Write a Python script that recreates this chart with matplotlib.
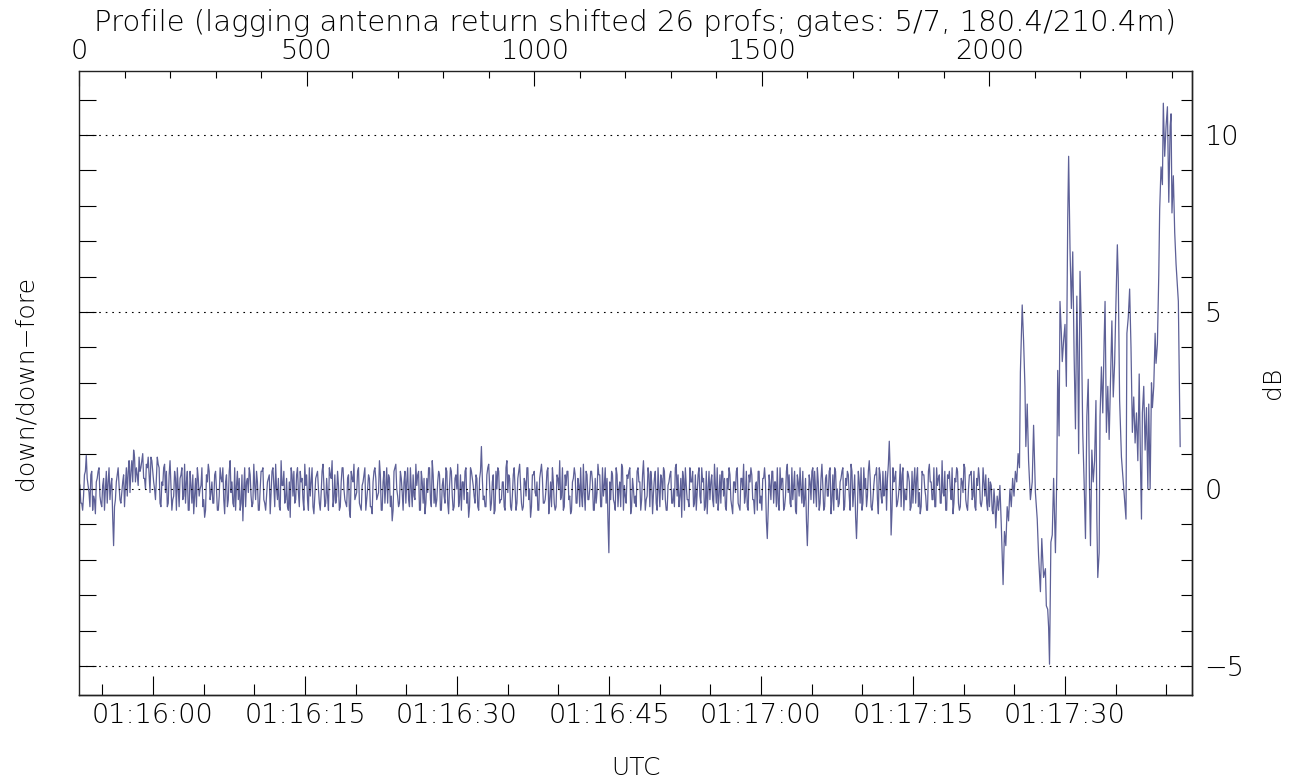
import numpy as np
import matplotlib
matplotlib.use('Agg')
import matplotlib.pyplot as plt
from matplotlib.ticker import MultipleLocator, FuncFormatter, NullFormatter

# ---------------- data ----------------
noise_step = 4  # profiles between samples of each quiet-part list
# samples at profiles 0, 4, 8, ...
noise_values_a = [
    0.2, -0.4, -0.6, 0.4, 0.95, 0.1, -0.5, 0.5, -0.2, -0.7, 0.3, 0.6, -0.4, 0.1, -0.6, 0.5, 0.2, -0.3, 0.3, -1.6,
    -0.3, 0.4, 0.1, -0.4, 0.2, -0.5, 0.6, 0.5, -0.1, 0.8, 1.1, 0.2, 0.4, 0.9, 0.6, 1.0, 0.3, 0.7, 0.9, -0.1,
    0.8, 0.2, -0.3, 0.9, 0.6, -0.5, 0.1, 0.7, 0.5, -0.4, 0.8, -0.6, -0.2, 0.3, 0.6, -0.5, 0.4, -0.3, 0.7, 0.2,
    -0.6, 0.5, -0.4, -0.7, 0.3, 0.6, -0.2, 0.1, -0.5, -0.8, 0.4, 0.7, -0.3, 0.2, -0.4, 0.5, -0.6, -0.2, 0.3, 0.6,
    -0.7, 0.4, -0.3, 0.8, 0.2, -0.5, -0.6, 0.5, 0.3, -0.4, -0.9, 0.6, 0.2, -0.1, 0.4, -0.5, 0.7, -0.3, 0.2, -0.6,
    0.5, 0.6, -0.4, -0.2, 0.3, -0.7, 0.5, 0.1, 0.7, -0.3, -0.5, 0.8, 0.1, -0.4, 0.3, -0.6, -0.8, 0.4, 0.5, -0.3,
    0.6, -0.5, 0.2, -0.3, 0.7, 0.4, -0.6, -0.2, 0.6, -0.7, 0.3, 0.5, -0.4, -0.1, 0.7, -0.5, 0.3, -0.6, 0.4, 0.8,
    -0.3, -0.4, 0.5, -0.6, 0.2, 0.6, -0.3, -0.5, 0.4, -0.8, 0.3, 0.7, -0.2, 0.5, -0.4, -0.6, 0.2, 0.6, -0.3, 0.4,
    -0.5, -0.7, 0.5, 0.3, -0.2, 0.8, -0.6, 0.2, -0.4, 0.6, 0.4, -0.5, -0.9, 0.5, 0.7, -0.2, -0.4, 0.3, -0.6, 0.5,
    0.2, -0.3, 0.6, -0.5, -0.2, 0.7, 0.4, -0.6, 0.5, -0.4, -0.7, 0.3, 0.6, -0.3, 0.8, -0.4, -0.5, 0.2, 0.4, -0.6,
    0.3, -0.4, 0.5, -0.7, 0.6, -0.2, -0.5, 0.4, 0.7, -0.3, -0.6, 0.2, 0.5, -0.4, -0.8, 0.6, 0.3, -0.2, 0.4, -0.5,
    0.3, 1.2, -0.3, -0.5, 0.4, 0.7, -0.6, 0.2, -0.7, 0.5, 0.6, -0.4, -0.3, 0.2, -0.6, 0.8, 0.4, -0.5, -0.2, 0.6,
    -0.6, 0.3, 0.7, -0.4, -0.5, 0.2, 0.6, -0.3, -0.8, 0.4, 0.5, -0.2, -0.6, 0.3, 0.7, -0.4, -0.3, 0.5, -0.7, 0.2,
    0.6, -0.4, -0.5, 0.3, 0.8, -0.2, -0.6, 0.4, 0.5, -0.3, -0.7, 0.2, 0.6, -0.4, 0.3, -0.5, -0.2, 0.7, -0.6, 0.4,
    -0.3, 0.5, 0.2, -0.6, -0.4, 0.7, 0.4, -0.5, -0.2, 0.6, 0.3, -1.8, -0.3, 0.4, -0.4, 0.6, -0.5, 0.2, 0.7, -0.6,
    -0.2, 0.4, 0.5, -0.7, 0.3, -0.4, -0.5, 0.6, 0.2, -0.3, 0.8, -0.6, -0.2, 0.4, 0.5, -0.7, 0.3, -0.4, 0.6, -0.5,
    0.3, 0.6, -0.3, -0.6, 0.2, 0.5, -0.4, -0.5, 0.7, 0.4, -0.2, -0.8, 0.3, 0.6, -0.3, -0.5, 0.2, 0.5, -0.4, -0.6,
    0.4, -0.2, 0.6, 0.3, -0.5, -0.7, 0.5, 0.2, -0.3, 0.7, -0.4, -0.6, 0.4, 0.5, -0.2, -0.5, 0.3, 0.6, -0.3, -0.7,
    0.2, 0.5, -0.4, -0.6, 0.3, 0.7, -0.2, -0.5, 0.4, 0.6, -0.3, -0.7, 0.2, 0.5, -0.4, -0.6, 0.3, 0.2, -1.4, 0.4,
    -0.3, 0.5, 0.2, -0.5, -0.4, 0.6, 0.3, -0.6, -0.2, 0.7, 0.4, -0.5, -0.3, 0.5, -0.7, 0.2, 0.6, -0.4, -0.5, 0.3,
    -1.6, 0.4, -0.3, 0.6, 0.5, -0.5, 0.2, -0.4, 0.7, -0.6, 0.3, -0.2, 0.5, -0.7, 0.4, 0.6, -0.3, -0.5, 0.2, 0.5,
    -0.6, 0.3, 0.5, -0.2, 0.7, -0.5, 0.4, -1.4, 0.5, -0.4, -0.6, 0.6, 0.3, -0.2, 0.8, -0.5, -0.3, 0.4, 0.6, -0.7,
    0.4, -0.4, -0.2, 0.5, 0.3, 1.35, -1.3, 0.6, 0.3, -0.5, -0.2, 0.7, 0.4, -0.6, -0.3, 0.5, 0.2, -0.5, -0.4, 0.6,
    0.3, -0.5, -0.7, 0.5, 0.4, -0.2, -0.6, 0.7, 0.2, -0.3, -0.5, 0.6, 0.3, -0.4, 0.8, -0.2, -0.6, 0.4, 0.5, -0.3,
    -0.7, 0.3, 0.6, -0.4, -0.5, 0.2, 0.7, -0.3, -0.6, 0.4, 0.5, -0.2, -0.5, 0.3, 0.6, -0.4, -0.3, 0.2, 0.4, -0.6,
    -0.5, 0.1, -0.7,
]
# samples at profiles 2, 6, 10, ...
noise_values_b = [
    0.1, -0.4, -0.2, 0.5, 0.3, -0.1, 0.4, -0.6, -0.3, 0.2, 0.5, -0.2, -0.5, 0.3, 0.0, -0.4, 0.6, 0.1, -0.8, -0.5,
    0.2, 0.6, -0.3, -0.1, 0.4, 0.1, -0.2, 0.8, 0.5, 0.2, 0.9, 0.6, 0.1, 0.5, 0.8, 0.3, 0.0, 0.6, 0.4, 0.9,
    0.5, 0.0, 0.3, 0.7, -0.4, 0.2, 0.6, -0.1, -0.5, 0.4, 0.1, -0.3, 0.5, -0.6, 0.0, 0.3, 0.6, -0.2, -0.4, 0.5,
    -0.6, 0.1, 0.4, -0.2, -0.5, 0.3, 0.0, 0.6, -0.3, -0.6, 0.2, 0.5, -0.1, -0.4, 0.4, 0.0, -0.6, 0.6, 0.2, -0.3,
    0.2, -0.5, 0.5, -0.1, -0.4, 0.6, 0.1, -0.3, -0.6, 0.4, 0.0, -0.5, 0.3, 0.6, -0.2, -0.4, 0.1, 0.5, -0.6, 0.0,
    0.5, -0.3, -0.6, 0.2, 0.4, -0.1, 0.6, -0.5, 0.0, 0.3, -0.6, 0.1, 0.5, -0.3, -0.5, 0.2, 0.6, -0.2, -0.4, 0.4,
    -0.1, 0.5, 0.3, -0.6, 0.1, -0.3, 0.6, 0.2, -0.5, -0.2, 0.4, 0.0, -0.6, 0.5, 0.1, -0.4, -0.2, 0.6, 0.3, -0.5,
    0.4, -0.2, 0.1, -0.5, 0.6, 0.0, -0.4, 0.3, -0.6, 0.5, 0.2, -0.3, -0.1, 0.6, -0.5, 0.1, 0.4, -0.6, 0.0, 0.3,
    -0.5, 0.2, 0.6, -0.3, -0.1, 0.4, -0.6, 0.5, 0.1, -0.4, 0.3, -0.2, -0.6, 0.6, 0.0, -0.5, 0.5, -0.1, 0.2, -0.4,
    0.6, -0.5, 0.0, 0.4, -0.3, 0.1, 0.5, -0.6, 0.2, 0.3, -0.4, -0.1, 0.6, -0.5, 0.4, 0.0, -0.3, 0.5, -0.6, 0.1,
    -0.2, 0.6, -0.4, 0.1, 0.5, -0.6, 0.3, 0.0, -0.5, 0.4, 0.2, -0.3, 0.6, -0.1, -0.5, 0.5, 0.1, -0.4, 0.3, -0.6,
    0.5, 0.3, -0.2, -0.5, 0.6, 0.1, -0.4, 0.4, -0.6, 0.0, 0.5, -0.3, 0.2, -0.5, 0.6, -0.1, 0.3, -0.6, 0.4, 0.0,
    -0.4, 0.5, 0.1, -0.6, 0.3, -0.2, 0.6, 0.0, -0.5, 0.4, -0.1, 0.2, -0.6, 0.5, 0.3, -0.4, 0.0, 0.6, -0.3, -0.5,
    0.2, -0.6, 0.4, 0.0, -0.3, 0.6, -0.5, 0.1, 0.5, -0.2, -0.6, 0.3, 0.4, -0.4, 0.1, 0.6, -0.5, -0.1, 0.5, -0.3,
    0.0, 0.5, -0.6, 0.3, -0.1, 0.4, -0.5, 0.6, 0.1, -0.4, -0.9, 0.2, 0.5, -0.3, -0.6, 0.4, 0.0, -0.5, 0.6, 0.1,
    -0.4, 0.3, 0.6, -0.5, 0.0, -0.2, 0.5, 0.2, -0.6, 0.4, 0.1, -0.3, 0.6, -0.5, 0.2, -0.1, 0.5, -0.6, 0.0, 0.4,
    -0.3, 0.5, -0.6, 0.1, 0.4, -0.4, 0.0, 0.6, -0.2, -0.5, 0.3, 0.5, -0.6, 0.1, -0.3, 0.6, 0.2, -0.5, 0.4, -0.1,
    0.6, -0.4, 0.2, -0.6, 0.5, 0.0, -0.3, 0.4, -0.5, 0.1, 0.6, -0.2, -0.4, 0.5, 0.3, -0.6, 0.0, 0.4, -0.5, 0.2,
    -0.1, 0.6, -0.5, 0.3, 0.0, -0.4, 0.5, -0.6, 0.2, 0.4, -0.3, 0.1, -0.6, 0.5, -0.2, 0.3, 0.6, -0.9, -0.6, 0.1,
    0.5, -0.4, 0.2, 0.6, -0.6, 0.0, 0.3, -0.5, 0.5, -0.1, -0.4, 0.6, 0.1, -0.6, 0.4, -0.2, 0.0, 0.5, -0.3, -0.9,
    -0.7, 0.2, 0.5, -0.4, 0.0, 0.6, -0.6, 0.3, 0.1, -0.5, 0.4, -0.2, 0.6, -0.3, -0.6, 0.5, 0.0, -0.4, 0.3, 0.6,
    -0.5, 0.1, 0.4, -0.6, 0.5, -0.1, -0.8, -0.6, 0.2, 0.6, -0.4, 0.0, -0.5, 0.5, 0.3, -0.6, 0.1, 0.4, -0.3, 0.6,
    -0.2, 0.5, 0.0, -0.6, 0.7, 0.5, -0.6, 0.2, 0.5, -0.4, 0.1, -0.5, 0.6, 0.0, -0.3, 0.4, -0.6, 0.5, 0.2, -0.4,
    0.6, -0.1, -0.5, 0.4, 0.0, -0.6, 0.5, 0.2, -0.3, 0.6, -0.5, 0.1, 0.4, -0.4, -0.1, 0.5, -0.6, 0.3, 0.0, 0.6,
    -0.4, 0.2, 0.5, -0.6, 0.3, -0.1, 0.6, -0.5, 0.0, 0.4, -0.3, 0.5, -0.6, 0.1, 0.3, -0.5, 0.6, -0.2, -0.4, 0.3,
    0.2, -0.6, 0.0,
]

tail_profiles = [
    2012, 2014, 2017, 2020, 2023, 2026, 2030, 2033, 2036, 2039, 2042, 2045, 2048, 2051, 2054, 2057, 2060, 2063, 2066, 2068,
    2072, 2075, 2078, 2080, 2083, 2086, 2090, 2094, 2097, 2101, 2105, 2108, 2112, 2115, 2119, 2123, 2125, 2128, 2130, 2132,
    2135, 2138, 2141, 2145, 2148, 2150, 2153, 2155, 2158, 2160, 2163, 2166, 2169, 2172, 2174, 2177, 2180, 2183, 2186, 2189,
    2192, 2194, 2196, 2199, 2202, 2205, 2208, 2211, 2214, 2217, 2220, 2222, 2225, 2228, 2231, 2234, 2236, 2238, 2241, 2243,
    2246, 2249, 2252, 2254, 2257, 2260, 2263, 2266, 2269, 2272, 2275, 2278, 2281, 2283, 2286, 2290, 2294, 2297, 2300, 2302,
    2305, 2308, 2311, 2314, 2317, 2320, 2323, 2326, 2329, 2332, 2334, 2336, 2339, 2342, 2345, 2348, 2350, 2353, 2356, 2358,
    2361, 2364, 2366, 2369, 2372, 2374, 2377, 2380, 2382, 2385, 2388, 2391, 2394, 2397, 2399, 2401, 2404, 2407, 2410, 2413,
    2415, 2419,
]
tail_values = [
    -0.4, -1.1, -0.2, -0.6, 0.1, -1.0, -2.7, -1.2, -1.6, -0.5, -0.9, 0.0, -0.5, 0.3, -0.2, 0.5, 0.2, 1.0, 0.6, 3.3,
    5.2, 4.2, 2.9, 1.2, 2.4, 0.8, -0.3, 0.2, 1.8, -0.1, -0.85, -1.9, -2.9, -1.4, -2.5, -2.25, -3.3, -3.4, -3.9, -4.95,
    -1.5, -1.3, 0.3, -1.8, 0.45, 3.35, 1.5, 5.3, 4.4, 3.6, 4.2, 4.65, 2.9, 7.65, 9.4, 6.8, 5.1, 6.7, 3.8, 1.7,
    5.45, 3.8, 1.0, 6.15, 4.5, 1.6, 0.2, -1.4, 2.05, 3.1, -0.1, -1.6, 1.1, 0.2, 0.8, 2.5, -0.85, -2.5, -1.8, 2.05,
    3.45, 2.15, 4.2, 5.3, 1.6, 2.9, 1.4, 3.1, 4.75, 2.6, 3.55, 5.3, 6.9, 5.95, 2.5, 0.9, 0.2, -0.3, -0.85, 4.4,
    4.85, 5.65, 4.0, 1.6, 2.6, 1.3, 2.15, 0.8, 3.25, 0.55, -0.85, 2.15, 2.9, 1.1, 2.3, 0.0, 2.4, 0.0, 3.0, 2.3,
    2.9, 4.4, 3.55, 4.1, 6.05, 7.9, 9.1, 8.6, 10.9, 9.4, 10.25, 10.8, 8.1, 10.25, 10.6, 7.8, 8.85, 7.25, 6.35, 5.7,
    5.3, 1.2,
]

ref_levels = [-5, 0, 5, 10]
profile_range = (0, 2445)
db_range = (-5.82, 11.81)
start_seconds = 1 * 3600 + 15 * 60 + 52.70   # UTC of profile 0
profiles_per_second = 22.26

title_text = 'Profile (lagging antenna return shifted 26 profs; gates: 5/7, 180.4/210.4m)'
left_label = 'down/down\u2212fore'
right_label = 'dB'
bottom_label = 'UTC'

# ---------------- plot ----------------
plt.rcParams['font.family'] = ['DejaVu Sans']
plt.rcParams['font.weight'] = 'light'
plt.rcParams['axes.labelweight'] = 'light'
FS_TICK = 19.5
FS_TITLE = 21
FS_LABEL = 18
line_color = '#5d6097'

prof_a = np.arange(len(noise_values_a)) * noise_step
prof_b = np.arange(len(noise_values_b)) * noise_step + noise_step // 2
profiles = np.concatenate([prof_a, prof_b, np.array(tail_profiles)])
values = np.concatenate([np.array(noise_values_a), np.array(noise_values_b), np.array(tail_values)])
order = np.argsort(profiles, kind='stable')
profiles, values = profiles[order], values[order]

fig = plt.figure(figsize=(12.89, 7.80), dpi=100)
ax = fig.add_axes([79 / 1289, 1 - 695 / 780, (1192 - 79) / 1289, (695 - 71) / 780])

ax.plot(profiles, values, color=line_color, lw=0.9, zorder=2)
for lev in ref_levels:
    ax.axhline(lev, color='black', lw=0.8, linestyle=(0, (1.5, 4.4)), zorder=3)

ax.set_xlim(*profile_range)
ax.set_ylim(*db_range)

for s in ax.spines.values():
    s.set_linewidth(1.0)
    s.set_color('#222222')

# top axis: profiles
def prof_fmt(v, pos=None):
    if v < profile_range[0] - 1e-6 or v > profile_range[1] + 1e-6:
        return ''
    return f'{v:.0f}'

ax.xaxis.tick_top()
ax.xaxis.set_label_position('top')
ax.xaxis.set_major_locator(MultipleLocator(500))
ax.xaxis.set_minor_locator(MultipleLocator(100))
ax.xaxis.set_major_formatter(FuncFormatter(prof_fmt))
ax.tick_params(axis='x', which='major', direction='in', length=11, width=0.8, labelsize=FS_TICK, pad=5)
ax.tick_params(axis='x', which='minor', direction='in', length=5, width=0.8)
ax.set_xlabel(title_text, fontsize=FS_TITLE, labelpad=6)

# left axis: ticks only
ax.yaxis.set_major_locator(MultipleLocator(1))
ax.tick_params(axis='y', which='major', direction='in', length=12, width=0.8,
               left=True, right=False, labelleft=False)
ax.set_ylabel(left_label, fontsize=FS_LABEL, labelpad=30)

# bottom axis: UTC
def p2t(p):
    return start_seconds + np.asarray(p, dtype=float) / profiles_per_second

def t2p(t):
    return (np.asarray(t, dtype=float) - start_seconds) * profiles_per_second

t_lo, t_hi = p2t(profile_range[0]), p2t(profile_range[1])

def hms(t, pos=None):
    if t < t_lo - 1e-6 or t > t_hi + 1e-6:
        return ''
    t = int(round(t))
    return f'{t // 3600:02d}:{(t % 3600) // 60:02d}:{t % 60:02d}'

sec = ax.secondary_xaxis('bottom', functions=(p2t, t2p))
sec.xaxis.set_major_locator(MultipleLocator(15))
sec.xaxis.set_minor_locator(MultipleLocator(5))
sec.xaxis.set_major_formatter(FuncFormatter(hms))
sec.tick_params(axis='x', which='major', direction='in', length=14, width=0.8, labelsize=FS_TICK, pad=6)
sec.tick_params(axis='x', which='minor', direction='in', length=8, width=0.8)
sec.set_xlabel(bottom_label, fontsize=FS_LABEL, labelpad=20)
sec.spines['bottom'].set_linewidth(1.0)
sec.spines['bottom'].set_color('#222222')

# right axis: dB
def db_fmt(v, pos=None):
    if v < db_range[0] - 1e-6 or v > db_range[1] + 1e-6:
        return ''
    return f'{v:.0f}'.replace('-', '\u2212')

secy = ax.secondary_yaxis('right', functions=(lambda v: v, lambda v: v))
secy.yaxis.set_major_locator(MultipleLocator(5))
secy.yaxis.set_minor_locator(MultipleLocator(1))
secy.yaxis.set_major_formatter(FuncFormatter(db_fmt))
secy.tick_params(axis='y', which='major', direction='in', length=8, width=0.8, labelsize=FS_TICK, pad=9)
secy.tick_params(axis='y', which='minor', direction='in', length=8, width=0.8)
secy.set_ylabel(right_label, fontsize=FS_LABEL, labelpad=12)
secy.spines['right'].set_linewidth(1.0)
secy.spines['right'].set_color('#222222')

fig.savefig('out.png', dpi=100)
